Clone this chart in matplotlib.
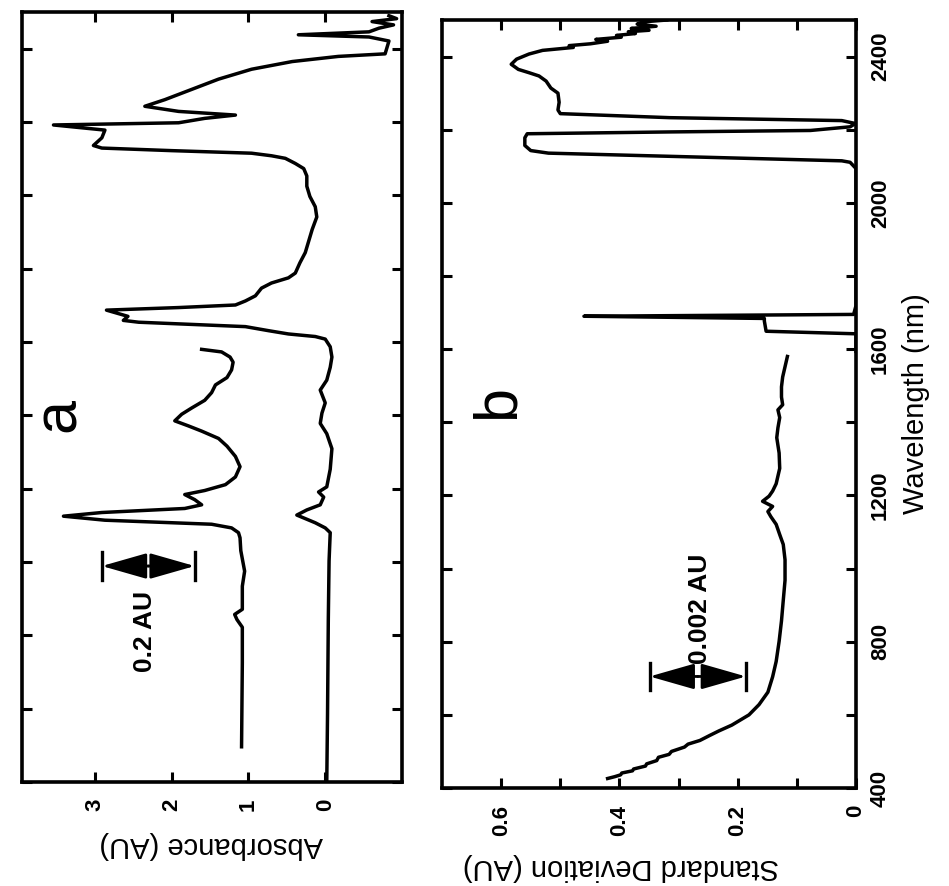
import matplotlib
matplotlib.use('Agg')
import matplotlib.pyplot as plt
from matplotlib.ticker import FixedLocator, FixedFormatter

plt.rcParams['font.family'] = ['Liberation Sans', 'DejaVu Sans']
plt.rcParams['font.weight'] = 'bold'

# Panel a: absorbance spectra (wavelength in nm, absorbance in AU)
a_base_wl = [400, 586, 843, 1003, 1080, 1093, 1107, 1128, 1142, 1156, 1177, 1191, 1205, 1253,
             1309, 1350, 1378, 1406, 1434, 1469, 1496, 1531, 1559, 1587, 1608, 1615, 1622,
             1631, 1642, 1654, 1659, 1670, 1687, 1694, 1701, 1712, 1726, 1747, 1761, 1775,
             1788, 1816, 1844, 1872, 1907, 1941, 1969, 1997, 2025, 2053, 2073, 2087, 2101,
             2108, 2115, 2122, 2129, 2136, 2157, 2178, 2192, 2198, 2210, 2219, 2229, 2243,
             2261, 2289, 2317, 2344, 2365, 2379, 2386, 2421, 2432, 2438, 2446, 2456, 2465,
             2474, 2482, 2490]
a_base_abs = [-0.02, -0.03, -0.04, -0.05, -0.065, 0.0, 0.13, 0.37, 0.24, 0.065, 0.02, 0.087,
              -0.02, -0.065, -0.087, -0.02, 0.065, 0.043, 0.0, 0.065, -0.02, -0.065, -0.087,
              -0.065, 0.0, 0.13, 0.48, 0.74, 1.04, 2.43, 2.63, 2.57, 2.85, 1.91, 1.17, 1.04,
              0.91, 0.83, 0.70, 0.48, 0.39, 0.33, 0.26, 0.22, 0.17, 0.11, 0.13, 0.20, 0.24,
              0.24, 0.28, 0.39, 0.52, 0.70, 0.96, 2.0, 2.91, 3.02, 2.91, 2.87, 3.54, 1.91,
              1.57, 1.17, 1.91, 2.35, 2.09, 1.74, 1.39, 0.96, 0.43, -0.17, -0.78, -0.83,
              -0.57, 0.35, -0.57, -0.70, -0.89, -0.61, -0.93, -0.83]

a_top_wl = [496, 725, 822, 843, 857, 871, 934, 975, 1031, 1066, 1080, 1093, 1103, 1114, 1125,
            1135, 1146, 1156, 1170, 1184, 1195, 1211, 1232, 1260, 1288, 1316, 1337, 1357,
            1371, 1385, 1403, 1420, 1441, 1462, 1483, 1503, 1524, 1545, 1559, 1573, 1580]
a_top_abs = [1.09, 1.08, 1.08, 1.15, 1.18, 1.08, 1.08, 1.05, 1.10, 1.11, 1.13, 1.22, 1.48,
             2.87, 3.41, 2.91, 1.83, 1.61, 1.70, 1.83, 1.57, 1.30, 1.17, 1.11, 1.17, 1.28,
             1.39, 1.61, 1.78, 1.96, 1.87, 1.74, 1.57, 1.48, 1.43, 1.28, 1.22, 1.20, 1.24,
             1.35, 1.61]

# Panel b: standard deviation of the spectra
b_long_wl = [1594, 1642, 1649, 1677, 1684, 1690, 1695, 1719, 2094, 2111, 2115, 2136, 2143,
             2157, 2178, 2189, 2194, 2198, 2208, 2217, 2225, 2233, 2244, 2254, 2275, 2300,
             2314, 2333, 2347, 2356, 2365, 2379, 2393, 2407, 2417, 2425, 2430, 2435, 2442,
             2447, 2453, 2458, 2463, 2468, 2472, 2477, 2483, 2489, 2495, 2500]
b_long_sd = [0.0, 0.0, 0.152, 0.155, 0.155, 0.46, 0.004, 0.0, 0.0, 0.01, 0.024, 0.52, 0.55,
             0.56, 0.56, 0.556, 0.315, 0.077, 0.01, 0.001, 0.024, 0.315, 0.50, 0.504, 0.502,
             0.504, 0.516, 0.524, 0.536, 0.553, 0.571, 0.583, 0.574, 0.553, 0.530, 0.478,
             0.485, 0.449, 0.42, 0.44, 0.397, 0.405, 0.373, 0.385, 0.35, 0.38, 0.338, 0.37,
             0.36, 0.32]

b_short_wl = [426, 431, 436, 441, 447, 452, 460, 466, 475, 484, 492, 500, 512, 520, 530, 544,
              556, 572, 600, 628, 662, 704, 746, 801, 857, 913, 968, 1024, 1066, 1093, 1121,
              1142, 1156, 1170, 1184, 1198, 1212, 1232, 1274, 1316, 1358, 1385, 1413, 1434,
              1448, 1469, 1497, 1524, 1552, 1580]
b_short_sd = [0.42, 0.408, 0.398, 0.396, 0.378, 0.376, 0.356, 0.354, 0.337, 0.334, 0.316,
              0.312, 0.29, 0.284, 0.264, 0.247, 0.232, 0.21, 0.181, 0.164, 0.149, 0.141, 0.135,
              0.130, 0.126, 0.123, 0.120, 0.120, 0.123, 0.129, 0.135, 0.144, 0.149, 0.141,
              0.158, 0.147, 0.141, 0.135, 0.129, 0.130, 0.134, 0.132, 0.129, 0.132, 0.124,
              0.126, 0.126, 0.124, 0.120, 0.116]

wl_major = [400, 800, 1200, 1600, 2000, 2400]
wl_minor = [600, 1000, 1400, 1800, 2200]
abs_ticks = [0, 1, 2, 3]
abs_labels = ['0', '1', '2', '3']
sd_major = [0, 0.2, 0.4, 0.6]
sd_labels = ['0', '0.2', '0.4', '0.6']
sd_minor = [0.1, 0.3, 0.5]

fig = plt.figure(figsize=(9.49, 8.86), dpi=100)
ax_a = fig.add_axes([0.0232, 0.1174, 0.4004, 0.869])
ax_b = fig.add_axes([0.4658, 0.1106, 0.4362, 0.8668])

for ax in (ax_a, ax_b):
    ax.set_ylim(400, 2500)
    ax.yaxis.set_major_locator(FixedLocator(wl_major))
    ax.yaxis.set_minor_locator(FixedLocator(wl_minor))
    for s in ax.spines.values():
        s.set_linewidth(2.6)
    ax.tick_params(which='both', direction='in', length=7, width=2.2,
                   left=True, right=True, top=True, bottom=True, labelsize=16)


def scale_bar(ax, wl, ends, text, tx, ty, va):
    mid = sum(ends) / 2
    for end in ends:
        ax.annotate('', xy=(end, wl), xytext=(mid, wl),
                    arrowprops=dict(arrowstyle='-|>,head_length=0.7,head_width=0.2',
                                    mutation_scale=40, color='black', lw=2,
                                    shrinkA=0, shrinkB=0))
        ax.plot([end, end], [wl - 38, wl + 38], color='black', lw=2.4)
    ax.text(tx, ty, text, rotation=90, ha='center', va=va, fontsize=19)


# ---- panel a ----
ax_a.plot(a_base_abs, a_base_wl, color='black', lw=2.5)
ax_a.plot(a_top_abs, a_top_wl, color='black', lw=2.5)
ax_a.set_xlim(3.95, -1.0)
ax_a.xaxis.set_major_locator(FixedLocator(abs_ticks))
ax_a.xaxis.set_major_formatter(FixedFormatter(abs_labels))
ax_a.tick_params(axis='y', labelleft=False, labelright=False)
ax_a.tick_params(axis='x', labelrotation=90, pad=12)
ax_a.set_xlabel('Absorbance (AU)', fontsize=21, rotation=180)
ax_a.xaxis.set_label_coords(0.497, -0.064)

scale_bar(ax_a, 989, (2.91, 1.70), '0.2 AU', 2.35, 920, 'top')
ax_a.text(3.46, 1400, 'a', rotation=90, ha='center', va='center', fontsize=44,
          fontweight='normal')

# ---- panel b ----
ax_b.plot(b_long_sd, b_long_wl, color='black', lw=2.5)
ax_b.plot(b_short_sd, b_short_wl, color='black', lw=2.5)
ax_b.set_xlim(0.70, 0.0)
ax_b.xaxis.set_major_locator(FixedLocator(sd_major))
ax_b.xaxis.set_major_formatter(FixedFormatter(sd_labels))
ax_b.xaxis.set_minor_locator(FixedLocator(sd_minor))
ax_b.tick_params(axis='x', labelrotation=90, pad=12)
ax_b.tick_params(axis='y', labelleft=False, labelright=True, pad=10)
ax_b.set_xlabel('Standard Deviation (AU)', fontsize=21, rotation=180)
ax_b.xaxis.set_label_coords(0.432, -0.085)
ax_b.yaxis.set_label_position('right')
ax_b.set_ylabel('Wavelength (nm)', fontsize=21, rotation=90, labelpad=8)

scale_bar(ax_b, 705, (0.349, 0.186), '0.002 AU', 0.263, 740, 'bottom')
ax_b.text(0.605, 1455, 'b', rotation=90, ha='center', va='center', fontsize=44,
          fontweight='normal')

for lab in ax_b.yaxis.get_majorticklabels():
    lab.set_rotation(90)
    lab.set_va('center')
    lab.set_ha('left')

fig.savefig('out.png', dpi=100, facecolor='white')
